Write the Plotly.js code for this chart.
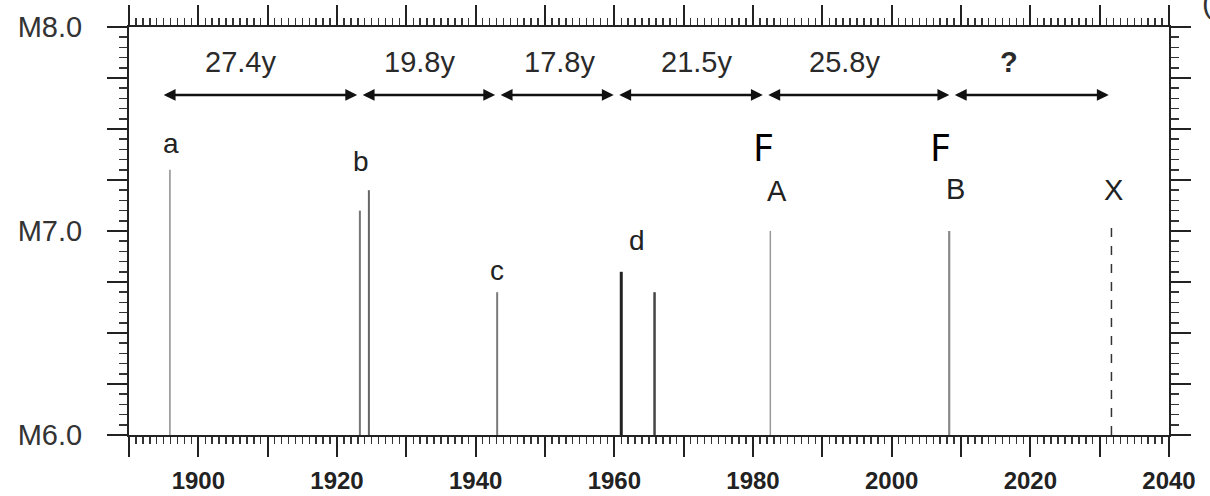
<!DOCTYPE html>
<html><head><meta charset="utf-8">
<script src="https://cdn.plot.ly/plotly-3.0.1.min.js"></script>
<style>html,body{margin:0;padding:0;background:#fff}</style>
</head><body><div id="chart" style="width:1210px;height:496px"></div>
<script>
// ---- data ----
const eventYears  = [1895.9, 1923.3, 1924.6, 1943.1, 1961.0, 1965.8, 1982.5, 2008.3, 2031.7];
const eventMags   = [7.30, 7.10, 7.20, 6.70, 6.80, 6.70, 7.00, 7.00, 7.05];
const eventLabels = ['a', 'b', '', 'c', 'd', '', 'A', 'B', 'X'];
const eventFlags  = ['', '', '', '', '', '', 'F', 'F', ''];
const arrowYears  = [1894.5, 1923.2, 1943.1, 1960.2, 1981.7, 2008.6, 2031.6];
const intervalLabels = ['27.4y', '19.8y', '17.8y', '21.5y', '25.8y', '?'];
const arrowLevel = 7.667;
const xTickVals = [1890, 1900, 1910, 1920, 1930, 1940, 1950, 1960, 1970, 1980, 1990, 2000, 2010, 2020, 2030, 2040];
const xTickText = ['', '1900', '', '1920', '', '1940', '', '1960', '', '1980', '', '2000', '', '2020', '', '2040'];
const yTickVals = [6, 6.25, 6.5, 6.75, 7, 7.25, 7.5, 7.75, 8];
const yTickText = ['M6.0', '', '', '', 'M7.0', '', '', '', 'M8.0'];

// ---- styles ----
const lineColors = ['#8c8c8c', '#777', '#666', '#7a7a7a', '#222', '#444', '#999', '#888', '#333'];
const lineWidths = [1.5, 2, 2, 2, 3, 2.5, 1.5, 2.2, 1.5];
const lineDashes = ['solid', 'solid', 'solid', 'solid', 'solid', 'solid', 'solid', 'solid', 'dash'];
const labelShift = [[1, 26], [1, 49], [0, 0], [0, 22], [16, 31], [0, 0], [7, 40], [6, 42], [2, 31]];
const labelSize  = [28, 28, 28, 28, 28, 28, 29, 29, 29];
const flagShift  = [[0, 0], [0, 0], [0, 0], [0, 0], [0, 0], [0, 0], [-7, 85], [-9, 85], [0, 0]];
const intervalXShift = [-19, -9, 3, 6, -14, -22];

const FONT = 'Liberation Sans, Arial, Helvetica, sans-serif';

const traces = eventYears.map((yr, i) => ({
  type: 'scatter', mode: 'lines',
  x: [yr, yr], y: [6, eventMags[i]],
  line: {color: lineColors[i], width: lineWidths[i], dash: lineDashes[i]},
  hoverinfo: 'skip', showlegend: false
}));

const annotations = [];
// event labels
eventYears.forEach((yr, i) => {
  if (eventLabels[i]) annotations.push({
    xref: 'x', yref: 'y', x: yr, y: eventMags[i], text: eventLabels[i], showarrow: false,
    xanchor: 'center', yanchor: 'middle', xshift: labelShift[i][0], yshift: labelShift[i][1],
    font: {family: FONT, size: labelSize[i], color: '#222'}
  });
  if (eventFlags[i]) annotations.push({
    xref: 'x', yref: 'y', x: yr, y: eventMags[i], text: eventFlags[i], showarrow: false,
    xanchor: 'center', yanchor: 'middle', xshift: flagShift[i][0], yshift: flagShift[i][1],
    font: {family: 'Noto Sans, Open Sans, sans-serif', size: 38, color: '#000'}
  });
});
// interval arrows and labels
intervalLabels.forEach((lab, i) => {
  const x0 = arrowYears[i], x1 = arrowYears[i + 1];
  annotations.push({
    xref: 'x', yref: 'y', axref: 'x', ayref: 'y',
    x: x1, y: arrowLevel, ax: x0, ay: arrowLevel, text: '',
    showarrow: true, arrowside: 'end+start', arrowhead: 2, startarrowhead: 2,
    arrowsize: 0.95, startarrowsize: 0.95, arrowwidth: 2.5, arrowcolor: '#111',
    standoff: 2, startstandoff: 2
  });
  annotations.push({
    xref: 'x', yref: 'y', x: (x0 + x1) / 2, y: arrowLevel, text: lab === '?' ? '<b>?</b>' : lab,
    showarrow: false, xanchor: 'center', yanchor: 'middle',
    xshift: intervalXShift[i], yshift: 33,
    font: {family: FONT, size: 29, color: '#2a2a2a'}
  });
});
// clipped panel mark at the top-right corner
annotations.push({
  xref: 'paper', yref: 'paper', x: 1.0365, y: 1.06, text: '(', showarrow: false,
  xanchor: 'center', yanchor: 'middle', font: {family: FONT, size: 30, color: '#333'}
});

const axisCommon = {
  showline: true, linecolor: '#222', linewidth: 2, mirror: 'allticks',
  ticks: 'outside', ticklen: 20, tickwidth: 2, tickcolor: '#222',
  showgrid: false, zeroline: false, fixedrange: true
};

const layout = {
  width: 1210, height: 496,
  margin: {l: 129, r: 41, t: 27, b: 61},
  paper_bgcolor: '#fff', plot_bgcolor: '#fff',
  showlegend: false,
  xaxis: Object.assign({}, axisCommon, {
    range: [1890, 2040], tickmode: 'array', tickvals: xTickVals, ticktext: xTickText,
    tickfont: {family: FONT, size: 24, color: '#222', weight: 'bold'},
    ticklabelstandoff: 3,
    minor: {ticks: 'outside', dtick: 1, tick0: 1890, ticklen: 7, tickwidth: 1.5, tickcolor: '#333'}
  }),
  yaxis: Object.assign({}, axisCommon, {
    range: [6, 8], tickmode: 'array', tickvals: yTickVals, ticktext: yTickText,
    tickfont: {family: FONT, size: 29, color: '#333'},
    ticklabelstandoff: 19,
    minor: {ticks: 'outside', dtick: 0.05, tick0: 6, ticklen: 8, tickwidth: 1.5, tickcolor: '#333'}
  }),
  annotations: annotations
};

Plotly.newPlot('chart', traces, layout, {staticPlot: true, displayModeBar: false});
</script>
</body></html>
